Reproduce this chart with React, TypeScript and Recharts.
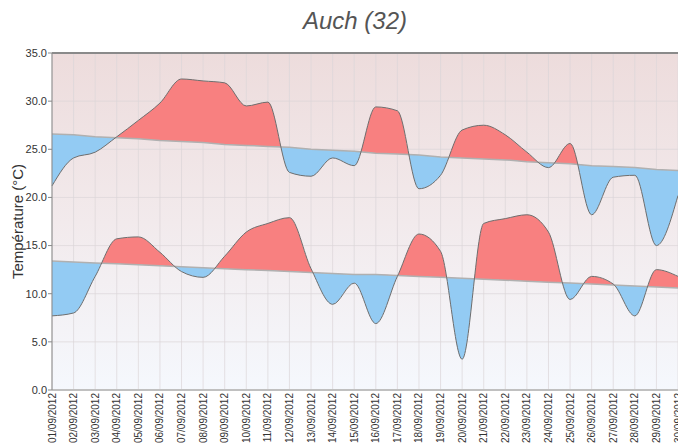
import { ComposedChart, Area, Line, XAxis, YAxis, CartesianGrid, ReferenceLine, usePlotArea } from "recharts";

const DAYS = [
  "01/09/2012", "02/09/2012", "03/09/2012", "04/09/2012", "05/09/2012", "06/09/2012",
  "07/09/2012", "08/09/2012", "09/09/2012", "10/09/2012", "11/09/2012", "12/09/2012",
  "13/09/2012", "14/09/2012", "15/09/2012", "16/09/2012", "17/09/2012", "18/09/2012",
  "19/09/2012", "20/09/2012", "21/09/2012", "22/09/2012", "23/09/2012", "24/09/2012",
  "25/09/2012", "26/09/2012", "27/09/2012", "28/09/2012", "29/09/2012", "30/09/2012",
];

// measured daily max / min (°C)
const MAX_TEMPS = [
  21.2, 24.1, 24.7, 26.3, 28.0, 29.8, 32.3, 32.1, 31.9, 29.5, 29.9, 22.6, 22.2, 24.1, 23.3,
  29.4, 29.0, 20.9, 22.3, 27.0, 27.5, 26.5, 24.7, 23.1, 25.6, 18.2, 22.1, 22.3, 15.0, 20.2,
];
const MIN_TEMPS = [
  7.7, 8.0, 11.8, 15.7, 15.9, 14.3, 12.3, 11.7, 13.9, 16.4, 17.3, 17.9, 12.6, 8.9, 11.1,
  6.9, 11.8, 16.2, 14.4, 3.2, 17.3, 17.8, 18.2, 16.4, 9.4, 11.8, 11.0, 7.7, 12.5, 11.8,
];

// seasonal normals
const MAX_NORMALS = [
  26.6, 26.5, 26.3, 26.2, 26.1, 25.9, 25.8, 25.7, 25.5, 25.4, 25.3, 25.2, 25.0, 24.9, 24.8,
  24.6, 24.5, 24.4, 24.2, 24.1, 24.0, 23.9, 23.7, 23.6, 23.5, 23.3, 23.2, 23.1, 22.9, 22.8,
];
const MIN_NORMALS = [
  13.4, 13.3, 13.2, 13.1, 13.0, 12.9, 12.8, 12.7, 12.6, 12.5, 12.4, 12.3, 12.2, 12.1, 12.0,
  12.0, 11.9, 11.8, 11.7, 11.6, 11.5, 11.4, 11.3, 11.2, 11.1, 11.0, 10.9, 10.8, 10.7, 10.6,
];

const Y_TICKS = [0, 5, 10, 15, 20, 25, 30, 35];
const Y_MAX = 35;

const HOT = "#f88080";
const COLD = "#93cbf3";
const FONT = "'Liberation Sans', Arial, sans-serif";

const data = DAYS.map((day, i) => ({
  day,
  max: MAX_TEMPS[i],
  min: MIN_TEMPS[i],
  normMax: MAX_NORMALS[i],
  normMin: MIN_NORMALS[i],
}));

// clip regions above / below each normal line, so the band between
// measured and normal is red when warmer and blue when colder
function NormalClips() {
  const plot = usePlotArea();
  if (!plot) return null;
  const n = DAYS.length;
  const px = (i: number) => plot.x + (plot.width * i) / (n - 1);
  const py = (v: number) => plot.y + plot.height * (1 - v / Y_MAX);
  const left = plot.x - 10;
  const right = plot.x + plot.width + 10;
  const top = plot.y - 20;
  const bottom = plot.y + plot.height + 20;

  const poly = (vals: number[], edge: number) => {
    const pts = vals.map((v, i) => `${px(i)},${py(v)}`);
    return [`${left},${edge}`, `${left},${py(vals[0])}`, ...pts, `${right},${py(vals[n - 1])}`, `${right},${edge}`].join(" ");
  };

  return (
    <defs>
      <clipPath id="above-max"><polygon points={poly(MAX_NORMALS, top)} /></clipPath>
      <clipPath id="below-max"><polygon points={poly(MAX_NORMALS, bottom)} /></clipPath>
      <clipPath id="above-min"><polygon points={poly(MIN_NORMALS, top)} /></clipPath>
      <clipPath id="below-min"><polygon points={poly(MIN_NORMALS, bottom)} /></clipPath>
    </defs>
  );
}

function DateTick({ x, y, payload }: any) {
  const ty = y - 5;
  return (
    <text
      x={x}
      y={ty}
      transform={`rotate(-90, ${x}, ${ty})`}
      textAnchor="end"
      dy="0.35em"
      fontSize={10}
      fontFamily={FONT}
      fill="#333"
    >
      {payload.value}
    </text>
  );
}

function YLabel({ viewBox }: any) {
  const cx = viewBox.x + 17;
  const cy = viewBox.y + viewBox.height / 2;
  return (
    <text
      x={cx}
      y={cy}
      transform={`rotate(-90, ${cx}, ${cy})`}
      textAnchor="middle"
      dominantBaseline="central"
      fontSize={15}
      fontFamily={FONT}
      fill="#333"
    >
      Température (°C)
    </text>
  );
}

export default function App() {
  return (
    <div style={{ position: "fixed", left: 0, top: 0, width: 678, height: 446, overflow: "hidden", background: "#fff" }}>
      <style>{`
        .hot-max { clip-path: url(#above-max); }
        .cold-max { clip-path: url(#below-max); }
        .hot-min { clip-path: url(#above-min); }
        .cold-min { clip-path: url(#below-min); }
      `}</style>
      <div
        style={{
          position: "absolute",
          top: 7,
          left: 0,
          width: 710,
          textAlign: "center",
          fontFamily: FONT,
          fontStyle: "italic",
          fontSize: 24,
          lineHeight: "28px",
          color: "#555",
        }}
      >
        Auch (32)
      </div>
      <ComposedChart width={710} height={446} data={data} margin={{ top: 53, right: 32, bottom: 0, left: 0 }}>
        <defs>
          <linearGradient id="plot-bg" x1="0" y1="0" x2="0" y2="1">
            <stop offset="0%" stopColor="#eddcdc" />
            <stop offset="50%" stopColor="#f2eaec" />
            <stop offset="100%" stopColor="#f5f8fd" />
          </linearGradient>
        </defs>
        <NormalClips />
        <CartesianGrid stroke="#dcd5d8" strokeOpacity={0.7} fill="url(#plot-bg)" />
        <XAxis
          dataKey="day"
          scale="point"
          padding={{ left: 0, right: 0 }}
          interval={0}
          height={56}
          tick={<DateTick />}
          tickLine={false}
          axisLine={{ stroke: "#c0c0c0", strokeWidth: 2 }}
        />
        <YAxis
          domain={[0, Y_MAX]}
          ticks={Y_TICKS}
          width={52}
          tickFormatter={(v: number) => v.toFixed(1)}
          tick={{ fontSize: 11, fontFamily: FONT, fill: "#333" }}
          tickSize={4}
          tickMargin={1}
          tickLine={{ stroke: "#888" }}
          axisLine={{ stroke: "#888" }}
          label={{ content: <YLabel /> }}
        />
        <ReferenceLine y={Y_MAX} stroke="#8a8a8a" strokeWidth={2} />

        <Area className="hot-max" type="monotone" dataKey={(d: any) => [d.normMax, d.max]} stroke="none" fill={HOT} fillOpacity={1} isAnimationActive={false} />
        <Area className="cold-max" type="monotone" dataKey={(d: any) => [d.normMax, d.max]} stroke="none" fill={COLD} fillOpacity={1} isAnimationActive={false} />
        <Area className="hot-min" type="monotone" dataKey={(d: any) => [d.normMin, d.min]} stroke="none" fill={HOT} fillOpacity={1} isAnimationActive={false} />
        <Area className="cold-min" type="monotone" dataKey={(d: any) => [d.normMin, d.min]} stroke="none" fill={COLD} fillOpacity={1} isAnimationActive={false} />

        <Line type="linear" dataKey="normMax" stroke="#b0b0b0" strokeWidth={1.5} dot={false} activeDot={false} isAnimationActive={false} />
        <Line type="linear" dataKey="normMin" stroke="#b0b0b0" strokeWidth={1.5} dot={false} activeDot={false} isAnimationActive={false} />
        <Line type="monotone" dataKey="max" stroke="#6e6e6e" strokeWidth={1} dot={false} activeDot={false} isAnimationActive={false} />
        <Line type="monotone" dataKey="min" stroke="#6e6e6e" strokeWidth={1} dot={false} activeDot={false} isAnimationActive={false} />
      </ComposedChart>
    </div>
  );
}
